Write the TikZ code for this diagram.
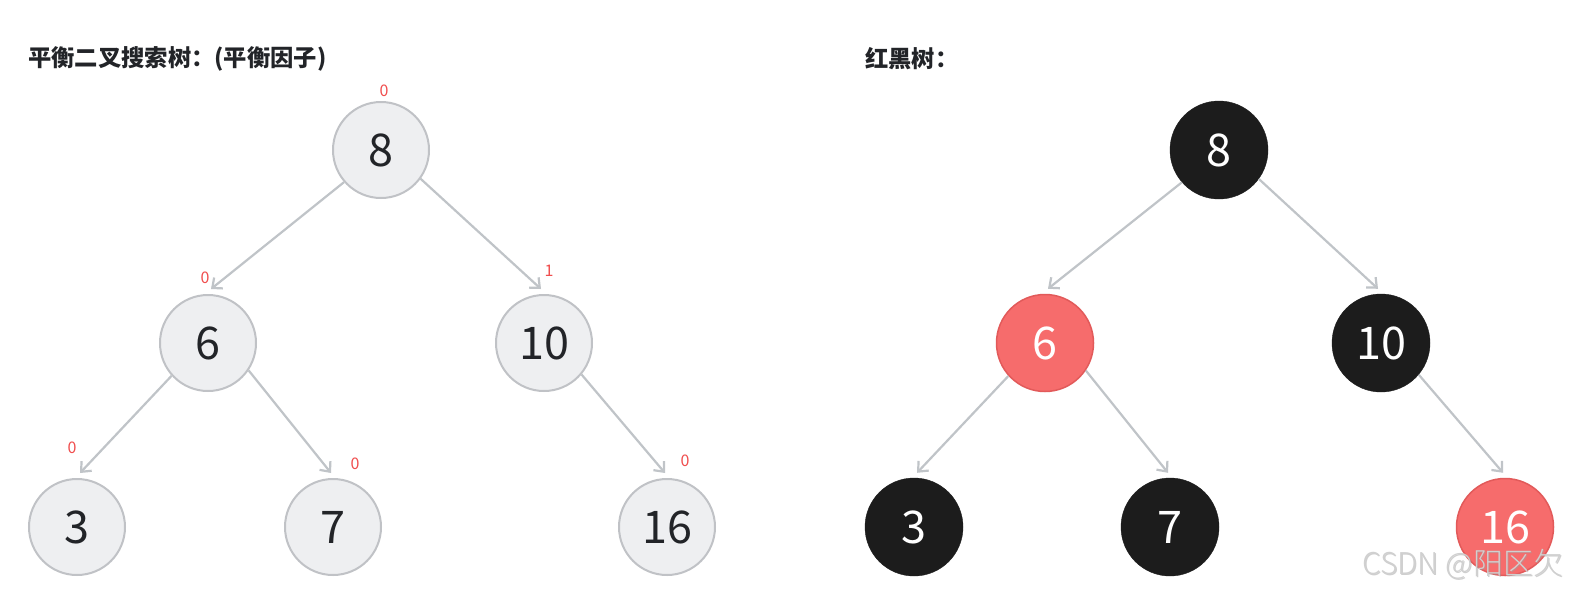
\documentclass[tikz,border=0pt]{standalone}
\usepackage{fontspec}
\setmainfont{Noto Sans CJK SC}
\newfontfamily\wmfont{Noto Sans CJK SC Light}
\usetikzlibrary{arrows.meta}
\definecolor{edgegray}{RGB}{192,196,200}
\definecolor{avlfill}{RGB}{238,239,241}
\definecolor{avlborder}{RGB}{192,194,198}
\definecolor{rbred}{RGB}{246,108,108}
\definecolor{rbredborder}{RGB}{226,90,90}
\definecolor{rbblack}{RGB}{28,28,28}
\definecolor{bfred}{RGB}{240,78,78}
\definecolor{txtdark}{RGB}{34,36,40}
\definecolor{wm}{RGB}{208,208,208}
\definecolor{wmshadow}{RGB}{160,160,160}
\tikzset{
  avl/.style={circle, minimum size=96pt, inner sep=0pt, fill=avlfill, draw=avlborder, line width=2pt, text=txtdark, font=\fontsize{45}{48}\selectfont},
  rbr/.style={circle, minimum size=97pt, inner sep=0pt, fill=rbred, draw=rbredborder, line width=1.5pt, text=white, font=\fontsize{45}{48}\selectfont},
  rbb/.style={circle, minimum size=98pt, inner sep=0pt, fill=rbblack, draw=rbblack, text=white, font=\fontsize{45}{48}\selectfont},
  edge/.style={draw=edgegray, line width=2.2pt, -{Straight Barb[length=8pt,width=14pt,line width=2.2pt]}},
  bf/.style={text=bfred, font=\fontsize{16}{18}\selectfont, inner sep=0pt},
  title/.style={anchor=west, font=\fontsize{23.3}{26}\selectfont\bfseries, text=txtdark, inner sep=0pt},
  wmstyle/.style={anchor=west, font=\wmfont\fontsize{30}{32}\selectfont, inner sep=0pt}
}
\begin{document}
\begin{tikzpicture}[x=1pt,y=-1pt]
\useasboundingbox[fill=white] (0,0) rectangle (1576,595);
% titles
\node[title] (t1) at (28,59) {平衡二叉搜索树：(平衡因子)};
\node[title] (t2) at (865,59) {红黑树：};
% AVL tree
\node[avl] (a8) at (381,150) {8};
\node[avl] (a6) at (208,343) {6};
\node[avl] (a10) at (544,343) {10};
\node[avl] (a3) at (77,527) {3};
\node[avl] (a7) at (333,527) {7};
\node[avl] (a16) at (667,527) {16};
\draw[edge] (a8.221) -- ([xshift=3pt,yshift=5pt]a6.north);
\draw[edge] (a8.324) -- ([xshift=-3pt,yshift=5pt]a10.north);
\draw[edge] (a6.222) -- ([xshift=3pt,yshift=5pt]a3.north);
\draw[edge] (a6.326) -- ([xshift=-2pt,yshift=5pt]a7.north);
\draw[edge] (a10.320) -- ([xshift=-2pt,yshift=5pt]a16.north);
% balance factors
\node[bf] (b8) at (384,91) {0};
\node[bf] (b6) at (205,278) {0};
\node[bf] (b10) at (549,271) {1};
\node[bf] (b3) at (72,448) {0};
\node[bf] (b7) at (355,464) {0};
\node[bf] (b16) at (685,461) {0};
% Red-black tree
\node[rbb] (r8) at (1219,150) {8};
\node[rbr] (r6) at (1045,343) {6};
\node[rbb] (r10) at (1381,343) {10};
\node[rbb] (r3) at (914,527) {3};
\node[rbb] (r7) at (1170,527) {7};
\node[rbr] (r16) at (1505,527) {16};
\draw[edge] (r8.221) -- ([xshift=3pt,yshift=5pt]r6.north);
\draw[edge] (r8.324) -- ([xshift=-3pt,yshift=5pt]r10.north);
\draw[edge] (r6.222) -- ([xshift=3pt,yshift=5pt]r3.north);
\draw[edge] (r6.326) -- ([xshift=-2pt,yshift=5pt]r7.north);
\draw[edge] (r10.320) -- ([xshift=-2pt,yshift=5pt]r16.north);
% watermark
\node[wmstyle, text=wmshadow, opacity=0.5] (wmks) at (1363,565) {CSDN @阳区欠};
\node[wmstyle, text=wm] (wmk) at (1362,564) {CSDN @阳区欠};
\end{tikzpicture}
\end{document}
